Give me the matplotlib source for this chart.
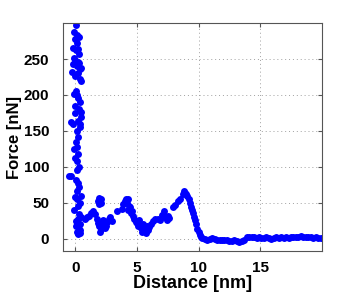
import matplotlib
matplotlib.use('Agg')
from matplotlib import pyplot as plt

# force-distance curve
# contact region (steep wall near 0 nm)
contact_pts = [(0.05, 298), (-0.10, 288), (0.12, 284), (0.00, 278), (0.28, 280), (0.10, 272),
               (-0.15, 266), (0.05, 262), (0.22, 264), (0.30, 257), (-0.10, 252), (0.00, 248),
               (0.18, 246), (-0.22, 243), (0.32, 244), (0.12, 240), (0.50, 238), (0.38, 236),
               (-0.25, 232), (0.20, 230), (0.40, 222), (-0.05, 226), (0.42, 220), (0.05, 206),
               (-0.10, 202), (0.15, 200), (0.25, 196), (0.35, 190), (0.00, 185), (0.30, 180),
               (0.45, 176), (0.48, 170), (-0.05, 175), (0.20, 164), (0.35, 160), (-0.35, 162),
               (-0.20, 160), (0.40, 155), (0.10, 150), (0.25, 142), (0.05, 135), (0.15, 128),
               (-0.10, 125), (0.25, 118), (0.00, 112), (0.10, 108), (0.30, 100), (0.15, 95),
               (-0.55, 87), (-0.35, 87), (0.05, 82), (0.20, 78), (0.30, 72), (0.15, 66),
               (-0.05, 58), (0.45, 60), (0.35, 50), (0.10, 55), (0.25, 45), (-0.10, 40),
               (0.30, 35), (0.45, 30), (0.05, 25), (0.20, 28), (0.40, 20), (0.05, 18),
               (0.30, 14), (0.15, 10), (0.40, 12), (0.25, 6), (0.35, 8)]

# oscillating part between 1 and 10 nm
wave_pts = [(0.75, 28), (0.95, 30), (1.1, 31), (1.3, 36), (1.45, 39), (1.6, 35), (1.75, 28),
            (1.85, 52), (1.95, 57), (2.05, 55), (2.1, 50), (1.95, 48), (1.8, 22), (1.9, 18),
            (2.0, 10), (2.1, 14), (2.2, 20), (2.25, 26), (2.35, 22), (2.4, 15), (2.5, 18),
            (2.6, 24), (2.7, 28), (2.85, 30), (3.0, 25), (3.4, 38), (3.75, 42), (3.85, 48),
            (4.0, 52), (4.1, 56), (4.2, 50), (4.3, 55), (4.35, 46), (4.25, 40), (4.45, 44),
            (4.5, 36), (4.6, 38), (4.7, 32), (4.8, 28), (4.9, 24), (5.0, 22), (5.1, 18),
            (5.2, 26), (5.3, 15), (5.4, 10), (5.5, 20), (5.6, 14), (5.7, 8), (5.8, 18),
            (5.9, 12), (6.0, 16), (6.1, 20), (6.3, 25), (6.5, 27), (6.7, 28), (6.9, 26),
            (7.0, 33), (7.2, 38), (7.3, 30), (7.4, 26), (7.5, 32), (7.6, 29), (7.9, 44),
            (8.1, 47), (8.3, 52), (8.5, 56), (8.7, 62), (8.8, 66), (8.9, 64), (9.0, 62),
            (9.1, 60), (9.2, 55), (9.3, 50), (9.35, 44), (9.45, 40), (9.55, 36), (9.65, 30),
            (9.75, 26), (9.8, 20), (9.9, 14), (10.0, 9), (10.1, 5), (10.2, 2)]

# flat tail beyond 10 nm
tail_pts = [(10.3, 1), (10.5, 0), (10.7, -1), (10.9, 0), (11.1, 1), (11.3, 0), (11.5, -1),
            (11.7, -1), (11.9, -2), (12.1, -1), (12.3, -2), (12.5, -3), (12.7, -3), (12.9, -2),
            (13.1, -3), (13.3, -4), (13.5, -3), (13.7, -2), (13.9, 2), (14.1, 3), (14.3, 2),
            (14.5, 2), (14.7, 1), (14.9, 2), (15.1, 1), (15.3, 1), (15.5, 2), (15.7, 1),
            (15.9, 0), (16.1, 1), (16.3, 2), (16.5, 1), (16.7, 2), (16.9, 1), (17.1, 2),
            (17.3, 1), (17.5, 2), (17.7, 3), (17.9, 2), (18.1, 3), (18.3, 4), (18.5, 3),
            (18.7, 2), (18.9, 3), (19.1, 2), (19.3, 1), (19.5, 2), (19.7, 1), (19.9, 1)]

xticks = [0, 5, 10, 15]
yticks = [0, 50, 100, 150, 200, 250]

pts = contact_pts + wave_pts + tail_pts
dist = [p[0] for p in pts]
force = [p[1] for p in pts]

plt.rcParams['font.family'] = ['Liberation Sans', 'DejaVu Sans']
plt.rcParams['font.weight'] = 'bold'

fig = plt.figure(figsize=(3.56, 2.96), dpi=100)
ax = fig.add_axes([0.177, 0.152, 0.727, 0.770])
ax.plot(dist, force, 'o', color='#0000ff', markersize=5, markeredgewidth=0)

ax.set_xlim(-1, 20)
ax.set_ylim(-17, 300)
ax.set_xticks(xticks)
ax.set_yticks(yticks)
ax.grid(True, linestyle=(0, (1, 3)), color='#a0a0a0', linewidth=0.7)
ax.tick_params(direction='in', length=3, labelsize=11, top=True, right=True,
               color='#555555')
ax.tick_params(axis='y', pad=10)
ax.tick_params(axis='x', pad=7)
for lab in ax.get_xticklabels() + ax.get_yticklabels():
    lab.set_fontweight('bold')
for s in ax.spines.values():
    s.set_color('#555555')
    s.set_linewidth(0.8)

ax.set_xlabel('Distance [nm]', fontsize=13, fontweight='bold', labelpad=0)
ax.set_ylabel('Force [nN]', fontsize=12, fontweight='bold', labelpad=1)

fig.savefig('out.png', dpi=100)
